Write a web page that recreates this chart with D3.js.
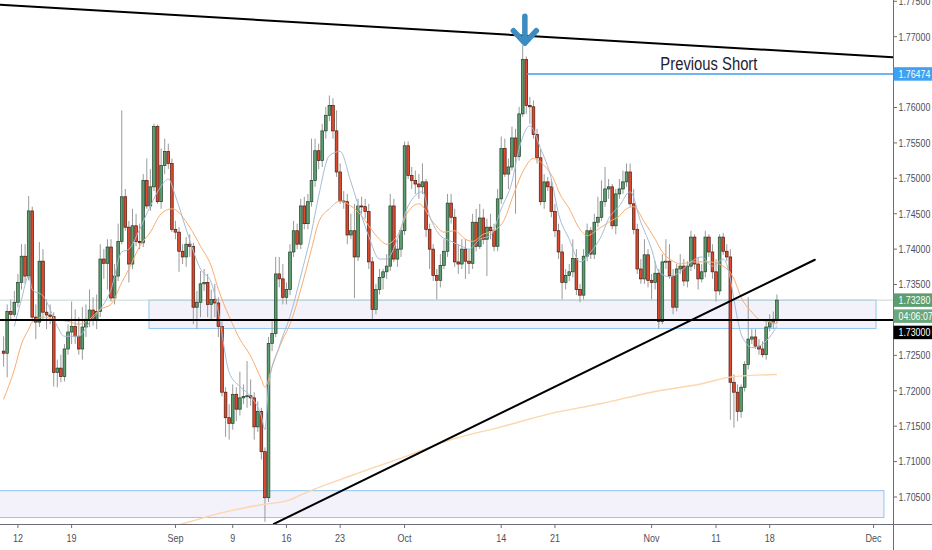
<!DOCTYPE html>
<html>
<head>
<meta charset="utf-8">
<script src="https://cdn.jsdelivr.net/npm/d3@7"></script>
<style>
  html, body { margin: 0; padding: 0; background: #fff; }
  svg { display: block; }
  .ax { font-family: "Liberation Sans", Arial, sans-serif; font-size: 11px; fill: #4c4f58; }
  .tag { font-family: "Liberation Sans", Arial, sans-serif; font-size: 11px; fill: #fff; }
</style>
</head>
<body>
<script>
// 8h candles, bar 0 = first fully visible bar (Aug 2019)
const opens = [
  1.7256,1.7253,1.7312,1.7308,1.7325,1.7353,1.7390,1.7362,1.7454,1.7304,
  1.7297,1.7383,1.7311,1.7307,1.7305,1.7226,1.7232,1.7220,1.7259,1.7283,
  1.7291,1.7277,1.7259,1.7290,1.7301,1.7314,1.7301,1.7312,1.7386,1.7380,
  1.7403,1.7331,1.7362,1.7411,1.7474,1.7431,1.7379,1.7433,1.7411,1.7409,
  1.7497,1.7461,1.7488,1.7573,1.7467,1.7518,1.7538,1.7521,1.7428,1.7424,
  1.7397,1.7389,1.7407,1.7404,1.7318,1.7325,1.7351,1.7353,1.7322,1.7329,
  1.7324,1.7291,1.7198,1.7162,1.7154,1.7195,1.7174,1.7190,1.7192,1.7193,
  1.7190,1.7149,1.7171,1.7114,1.7049,1.7267,1.7281,1.7365,1.7358,1.7332,
  1.7343,1.7396,1.7426,1.7407,1.7461,1.7436,1.7467,1.7497,1.7539,1.7525,
  1.7567,1.7589,1.7603,1.7567,1.7509,1.7468,1.7467,1.7420,1.7426,1.7389,
  1.7461,1.7460,1.7453,1.7382,1.7315,1.7343,1.7360,1.7368,1.7376,1.7461,
  1.7386,1.7400,1.7426,1.7546,1.7504,1.7497,1.7492,1.7488,1.7495,1.7428,
  1.7400,1.7363,1.7356,1.7377,1.7397,1.7465,1.7445,1.7382,1.7379,1.7400,
  1.7383,1.7380,1.7438,1.7404,1.7444,1.7414,1.7431,1.7426,1.7404,1.7471,
  1.7542,1.7506,1.7516,1.7557,1.7531,1.7591,1.7668,1.7603,1.7601,1.7562,
  1.7529,1.7467,1.7495,1.7488,1.7453,1.7426,1.7396,1.7353,1.7363,1.7368,
  1.7387,1.7343,1.7335,1.7390,1.7426,1.7393,1.7438,1.7445,1.7467,1.7485,
  1.7488,1.7433,1.7478,1.7485,1.7495,1.7509,1.7464,1.7428,1.7372,1.7358,
  1.7392,1.7356,1.7353,1.7366,1.7298,1.7382,1.7383,1.7362,1.7318,1.7372,
  1.7376,1.7355,1.7376,1.7417,1.7379,1.7358,1.7368,1.7417,1.7396,1.7368,
  1.7341,1.7417,1.7397,1.7389,1.7212,1.7198,1.7171,1.7205,1.7237,1.7273,
  1.7276,1.7263,1.7259,1.7251,1.7290,1.7297,1.7301
];
const highs = [
  1.7277,1.7322,1.7329,1.7341,1.7365,1.7407,1.7407,1.7475,1.7460,1.7322,
  1.7410,1.7400,1.7329,1.7322,1.7311,1.7244,1.7251,1.7266,1.7294,1.7326,
  1.7315,1.7304,1.7318,1.7322,1.7343,1.7332,1.7336,1.7407,1.7400,1.7414,
  1.7414,1.7379,1.7436,1.7596,1.7485,1.7440,1.7457,1.7450,1.7436,1.7506,
  1.7528,1.7513,1.7577,1.7576,1.7542,1.7556,1.7549,1.7528,1.7440,1.7431,
  1.7407,1.7417,1.7421,1.7409,1.7341,1.7369,1.7372,1.7365,1.7343,1.7351,
  1.7332,1.7298,1.7205,1.7181,1.7209,1.7205,1.7227,1.7209,1.7242,1.7216,
  1.7198,1.7185,1.7176,1.7120,1.7276,1.7298,1.7389,1.7389,1.7379,1.7353,
  1.7407,1.7440,1.7436,1.7471,1.7474,1.7478,1.7556,1.7556,1.7549,1.7577,
  1.7601,1.7617,1.7613,1.7596,1.7521,1.7482,1.7478,1.7450,1.7464,1.7471,
  1.7474,1.7471,1.7464,1.7389,1.7351,1.7372,1.7372,1.7393,1.7478,1.7471,
  1.7414,1.7428,1.7552,1.7552,1.7516,1.7511,1.7506,1.7521,1.7499,1.7436,
  1.7407,1.7372,1.7393,1.7414,1.7478,1.7478,1.7457,1.7407,1.7414,1.7414,
  1.7400,1.7450,1.7457,1.7464,1.7457,1.7443,1.7450,1.7436,1.7485,1.7559,
  1.7556,1.7528,1.7573,1.7570,1.7601,1.7688,1.7672,1.7615,1.7610,1.7570,
  1.7542,1.7506,1.7502,1.7499,1.7464,1.7436,1.7407,1.7372,1.7379,1.7414,
  1.7400,1.7351,1.7400,1.7436,1.7431,1.7450,1.7474,1.7497,1.7516,1.7499,
  1.7492,1.7485,1.7499,1.7511,1.7521,1.7521,1.7485,1.7436,1.7386,1.7414,
  1.7400,1.7365,1.7383,1.7372,1.7393,1.7414,1.7407,1.7372,1.7379,1.7393,
  1.7386,1.7383,1.7426,1.7421,1.7389,1.7379,1.7426,1.7421,1.7407,1.7386,
  1.7421,1.7423,1.7407,1.7400,1.7223,1.7209,1.7209,1.7242,1.7332,1.7287,
  1.7287,1.7273,1.7270,1.7301,1.7308,1.7312,1.7336
];
const lows = [
  1.7234,1.7219,1.7301,1.7304,1.7318,1.7343,1.7351,1.7356,1.7298,1.7273,
  1.7290,1.7301,1.7287,1.7294,1.7206,1.7205,1.7212,1.7213,1.7251,1.7266,
  1.7266,1.7251,1.7244,1.7276,1.7290,1.7292,1.7287,1.7304,1.7358,1.7343,
  1.7326,1.7322,1.7355,1.7407,1.7426,1.7353,1.7372,1.7404,1.7400,1.7403,
  1.7457,1.7454,1.7482,1.7464,1.7457,1.7506,1.7513,1.7424,1.7414,1.7368,
  1.7379,1.7375,1.7389,1.7294,1.7287,1.7304,1.7341,1.7304,1.7301,1.7304,
  1.7276,1.7192,1.7135,1.7131,1.7145,1.7157,1.7165,1.7181,1.7176,1.7179,
  1.7131,1.7142,1.7103,1.7015,1.7043,1.7256,1.7276,1.7346,1.7322,1.7322,
  1.7335,1.7389,1.7400,1.7400,1.7428,1.7428,1.7460,1.7488,1.7513,1.7516,
  1.7556,1.7581,1.7556,1.7502,1.7464,1.7457,1.7407,1.7414,1.7331,1.7383,
  1.7450,1.7443,1.7372,1.7301,1.7308,1.7336,1.7343,1.7358,1.7369,1.7382,
  1.7375,1.7389,1.7420,1.7499,1.7485,1.7478,1.7471,1.7478,1.7417,1.7372,
  1.7355,1.7329,1.7346,1.7372,1.7389,1.7436,1.7375,1.7365,1.7372,1.7358,
  1.7365,1.7372,1.7397,1.7400,1.7407,1.7362,1.7414,1.7397,1.7397,1.7464,
  1.7502,1.7485,1.7511,1.7450,1.7525,1.7587,1.7591,1.7577,1.7556,1.7521,
  1.7462,1.7457,1.7482,1.7445,1.7417,1.7386,1.7329,1.7343,1.7355,1.7360,
  1.7335,1.7325,1.7329,1.7383,1.7386,1.7386,1.7431,1.7440,1.7460,1.7471,
  1.7428,1.7421,1.7471,1.7478,1.7488,1.7460,1.7421,1.7365,1.7351,1.7351,
  1.7346,1.7329,1.7343,1.7287,1.7294,1.7372,1.7358,1.7308,1.7312,1.7365,
  1.7348,1.7346,1.7369,1.7372,1.7343,1.7353,1.7360,1.7389,1.7358,1.7326,
  1.7335,1.7392,1.7383,1.7159,1.7148,1.7157,1.7162,1.7199,1.7230,1.7266,
  1.7259,1.7251,1.7247,1.7244,1.7284,1.7287,1.7295
];
const closes = [
  1.7253,1.7312,1.7308,1.7325,1.7353,1.7390,1.7362,1.7454,1.7304,1.7297,
  1.7383,1.7311,1.7307,1.7305,1.7226,1.7232,1.7220,1.7259,1.7283,1.7291,
  1.7277,1.7259,1.7290,1.7301,1.7314,1.7301,1.7312,1.7386,1.7380,1.7403,
  1.7331,1.7362,1.7411,1.7474,1.7431,1.7379,1.7433,1.7411,1.7409,1.7497,
  1.7461,1.7488,1.7573,1.7467,1.7518,1.7538,1.7521,1.7428,1.7424,1.7397,
  1.7389,1.7407,1.7404,1.7318,1.7325,1.7351,1.7353,1.7322,1.7329,1.7324,
  1.7291,1.7198,1.7162,1.7154,1.7195,1.7174,1.7190,1.7192,1.7193,1.7190,
  1.7149,1.7171,1.7114,1.7049,1.7267,1.7281,1.7365,1.7358,1.7332,1.7343,
  1.7396,1.7426,1.7407,1.7461,1.7436,1.7467,1.7497,1.7539,1.7525,1.7567,
  1.7589,1.7603,1.7567,1.7509,1.7468,1.7467,1.7420,1.7426,1.7389,1.7461,
  1.7460,1.7453,1.7382,1.7315,1.7343,1.7360,1.7368,1.7376,1.7461,1.7386,
  1.7400,1.7426,1.7546,1.7504,1.7497,1.7492,1.7488,1.7495,1.7428,1.7400,
  1.7363,1.7356,1.7377,1.7397,1.7465,1.7445,1.7382,1.7379,1.7400,1.7383,
  1.7380,1.7438,1.7404,1.7444,1.7414,1.7431,1.7426,1.7404,1.7471,1.7542,
  1.7506,1.7516,1.7557,1.7531,1.7591,1.7668,1.7603,1.7601,1.7562,1.7529,
  1.7467,1.7495,1.7488,1.7453,1.7426,1.7396,1.7353,1.7363,1.7368,1.7387,
  1.7343,1.7335,1.7390,1.7426,1.7393,1.7438,1.7445,1.7467,1.7485,1.7488,
  1.7433,1.7478,1.7485,1.7495,1.7509,1.7464,1.7428,1.7372,1.7358,1.7392,
  1.7356,1.7353,1.7366,1.7298,1.7382,1.7383,1.7362,1.7318,1.7372,1.7376,
  1.7355,1.7376,1.7417,1.7379,1.7358,1.7368,1.7417,1.7396,1.7368,1.7341,
  1.7417,1.7397,1.7389,1.7212,1.7198,1.7171,1.7205,1.7237,1.7273,1.7276,
  1.7263,1.7259,1.7251,1.7290,1.7297,1.7301,1.7328
];

// moving averages at these bar indexes
const fastIdx = [3,5,7,8,11,13,15,17,21,24,27,30,33,35,38,41,44,46,48,51,55,58,60,63,66,69,72,73,74,77,80,83,86,88,91,94,97,100,102,105,107,110,113,117,119,122,125,128,130,133,136,139,142,144,147,150,153,155,158,161,164,167,169,172,175,178,181,183,186,189,192,195,198,201,203,204,205,206,207,209,211,214,216];
const fastVal = [1.7291,1.7329,1.7362,1.7343,1.7334,1.7315,1.7291,1.7277,1.7277,1.7297,1.7315,1.7343,1.7396,1.7400,1.7428,1.7461,1.7489,1.7499,1.7475,1.7428,1.7372,1.7353,1.7311,1.7226,1.7206,1.7192,1.7164,1.7145,1.7206,1.7263,1.7305,1.7362,1.7424,1.7475,1.7532,1.7538,1.7495,1.7447,1.7418,1.7386,1.7386,1.7414,1.7461,1.7481,1.7447,1.7419,1.7411,1.7404,1.7400,1.7414,1.7419,1.7457,1.7495,1.7542,1.7574,1.7542,1.7499,1.7450,1.7414,1.7382,1.7396,1.7419,1.7443,1.7461,1.7481,1.7438,1.7400,1.7368,1.7361,1.7368,1.7382,1.7389,1.7376,1.7386,1.7358,1.7329,1.7301,1.7280,1.7270,1.7261,1.7263,1.7276,1.7291];
const midIdx = [0,3,5,7,8,11,14,18,21,24,27,30,33,35,38,41,44,47,52,55,58,60,63,66,69,72,73,75,78,80,83,86,88,91,94,97,100,102,105,107,110,113,116,120,123,126,129,131,134,137,140,142,145,148,151,154,155,158,161,163,166,169,172,174,176,179,182,184,187,189,192,197,201,204,206,209,211,214,216];
const midVal = [1.7188,1.7230,1.7266,1.7287,1.7297,1.7304,1.7301,1.7298,1.7294,1.7301,1.7315,1.7322,1.7353,1.7372,1.7404,1.7424,1.7450,1.7457,1.7431,1.7404,1.7376,1.7343,1.7305,1.7273,1.7249,1.7216,1.7205,1.7234,1.7273,1.7294,1.7343,1.7400,1.7438,1.7457,1.7468,1.7461,1.7447,1.7433,1.7414,1.7407,1.7419,1.7453,1.7464,1.7438,1.7424,1.7426,1.7414,1.7411,1.7421,1.7426,1.7443,1.7471,1.7509,1.7528,1.7518,1.7495,1.7482,1.7457,1.7428,1.7419,1.7428,1.7438,1.7447,1.7457,1.7460,1.7438,1.7414,1.7396,1.7383,1.7379,1.7382,1.7382,1.7376,1.7358,1.7332,1.7311,1.7301,1.7297,1.7294];
const slowIdx = [47,52,62,72,80,83,97,111,125,139,153,167,181,195,204,216];
const slowVal = [1.7008,1.7015,1.7029,1.7039,1.7046,1.7053,1.7080,1.7105,1.7131,1.7149,1.7168,1.7182,1.7198,1.7210,1.7220,1.7223];

// axis ticks
const xTickIdx = [4, 19, 48, 64, 79, 94, 112, 139, 154, 181, 199, 214, 243];
const xTickLabels = ['12', '19', 'Sep', '9', '16', '23', 'Oct', '14', '21', 'Nov', '11', '18', 'Dec'];
const priceTicks = [1.705, 1.71, 1.715, 1.72, 1.725, 1.73, 1.735, 1.74, 1.745, 1.75, 1.755, 1.76, 1.765, 1.77, 1.775];

// drawings
const zoneStart = [40.6, -2];
const zoneEnd = [243.7, 245.9];
const zoneTop = [1.7328, 1.7059];
const zoneBottom = [1.7288, 1.7021];
const trendFrom = [[-1, 1.7745], [75.5, 1.7012]];
const trendTo = [[248.4, 1.7671], [226.6, 1.7385]];
const levelPrice = 1.73;
const prevShortPrice = 1.76474;
const prevShortFrom = 146.2;
const prevShortText = 'Previous Short';
const arrowBar = 145.6;
const timerText = '04:06:07';

const W = 932, H = 550;
const plotRight = 893, plotBottom = 524;

const svg = d3.select('body').append('svg')
    .attr('width', W)
    .attr('height', H);

const x = d3.scaleLinear().domain([0, 216]).range([3.6, 776.9]);
const y = d3.scaleLinear().domain([1.705, 1.77]).range([497, 36.7]);

svg.append('clipPath').attr('id', 'plot')
    .append('rect').attr('x', 0).attr('y', 0).attr('width', plotRight).attr('height', plotBottom);

const plot = svg.append('g').attr('clip-path', 'url(#plot)');

// zones
for (let k = 0; k < zoneTop.length; k++) {
    plot.append('rect')
        .attr('x', x(zoneStart[k]))
        .attr('y', y(zoneTop[k]))
        .attr('width', x(zoneEnd[k]) - x(zoneStart[k]))
        .attr('height', y(zoneBottom[k]) - y(zoneTop[k]))
        .attr('fill', '#f3f1fa')
        .attr('stroke', '#93c6ee')
        .attr('stroke-width', 1);
}

// last price line
const lastClose = closes[closes.length - 1];
plot.append('line')
    .attr('x1', 0).attr('x2', plotRight)
    .attr('y1', y(lastClose)).attr('y2', y(lastClose))
    .attr('stroke', '#c6d6cc').attr('stroke-width', 1);

// candles
const bars = d3.range(opens.length);
const up = i => closes[i] >= opens[i];

plot.selectAll('.wick')
    .data(bars)
    .join('line')
    .attr('class', 'wick')
    .attr('x1', i => x(i)).attr('x2', i => x(i))
    .attr('y1', i => y(highs[i])).attr('y2', i => y(lows[i]))
    .attr('stroke', '#9a9a9a').attr('stroke-width', 1);

plot.selectAll('.body')
    .data(bars)
    .join('rect')
    .attr('class', 'body')
    .attr('x', i => x(i) - 1.35)
    .attr('width', 2.7)
    .attr('y', i => y(Math.max(opens[i], closes[i])))
    .attr('height', i => Math.max(1, Math.abs(y(opens[i]) - y(closes[i]))))
    .attr('fill', i => up(i) ? '#5c9e70' : '#db4a2e')
    .attr('stroke', i => up(i) ? '#1f4029' : '#4f190e')
    .attr('stroke-width', 0.7);

// moving averages
const maLine = d3.line()
    .x(d => x(d[0]))
    .y(d => y(d[1]))
    .curve(d3.curveMonotoneX);

const mas = [
    { idx: slowIdx, val: slowVal, color: '#fcd6ad', w: 1.4 },
    { idx: midIdx, val: midVal, color: '#f8ad70', w: 1 },
    { idx: fastIdx, val: fastVal, color: '#a5bdd6', w: 1 }
];
for (const ma of mas) {
    plot.append('path')
        .datum(ma.idx.map((d, k) => [d, ma.val[k]]))
        .attr('d', maLine)
        .attr('fill', 'none')
        .attr('stroke', ma.color)
        .attr('stroke-width', ma.w);
}

// horizontal level and trend lines
plot.append('line')
    .attr('x1', 0).attr('x2', plotRight)
    .attr('y1', y(levelPrice)).attr('y2', y(levelPrice))
    .attr('stroke', '#000').attr('stroke-width', 2);

for (let k = 0; k < trendFrom.length; k++) {
    plot.append('line')
        .attr('x1', x(trendFrom[k][0])).attr('y1', y(trendFrom[k][1]))
        .attr('x2', x(trendTo[k][0])).attr('y2', y(trendTo[k][1]))
        .attr('stroke', '#000').attr('stroke-width', 2)
        .attr('stroke-linecap', 'round');
}

// previous short
plot.append('line')
    .attr('x1', x(prevShortFrom)).attr('x2', plotRight)
    .attr('y1', y(prevShortPrice)).attr('y2', y(prevShortPrice))
    .attr('stroke', '#3d9df0').attr('stroke-width', 1.5);

plot.append('text')
    .attr('transform', `translate(${x(197)},${y(prevShortPrice) - 4}) scale(0.78,1)`)
    .attr('text-anchor', 'middle')
    .style('font-family', '"Liberation Sans", Arial, sans-serif')
    .style('font-size', '19px')
    .style('fill', '#1e222d')
    .text(prevShortText);

// arrow over the top
const ax = x(arrowBar), ay = y(highs[145]);
plot.append('path')
    .attr('d', `M${ax},${ay - 29} L${ax},${ay - 3} M${ax - 11.5},${ay - 14.5} L${ax},${ay - 2} L${ax + 11.5},${ay - 14.5}`)
    .attr('fill', 'none')
    .attr('stroke', '#3b8cc0')
    .attr('stroke-width', 5.5)
    .attr('stroke-linecap', 'round')
    .attr('stroke-linejoin', 'round');

// axes frame
svg.append('line')
    .attr('x1', plotRight + 0.5).attr('x2', plotRight + 0.5)
    .attr('y1', 0).attr('y2', H)
    .attr('stroke', '#6b6e78').attr('stroke-width', 1);
svg.append('line')
    .attr('x1', 0).attr('x2', W)
    .attr('y1', plotBottom + 0.5).attr('y2', plotBottom + 0.5)
    .attr('stroke', '#6b6e78').attr('stroke-width', 1);

// time axis
const xt = svg.append('g');
xt.selectAll('line')
    .data(xTickIdx)
    .join('line')
    .attr('x1', d => x(d)).attr('x2', d => x(d))
    .attr('y1', plotBottom + 1).attr('y2', plotBottom + 4)
    .attr('stroke', '#6b6e78');
xt.selectAll('text')
    .data(xTickIdx)
    .join('text')
    .attr('class', 'ax')
    .attr('transform', d => `translate(${x(d)},542) scale(0.82,1)`)
    .attr('text-anchor', 'middle')
    .text((d, k) => xTickLabels[k]);

// price axis tags (stacked like the terminal does)
const fmt = d3.format('.5f');
const tagH = 13.5;
const squeeze = 'scale(0.8,1)';
const tags = [
    { yc: y(prevShortPrice), fill: '#3ea1f2', text: fmt(prevShortPrice) },
    { yc: y(lastClose), fill: '#5c9e70', text: fmt(lastClose) },
    { yc: y(lastClose) + 16, fill: '#68a77c', text: timerText },
    { yc: y(lastClose) + 32.3, fill: '#000', text: fmt(levelPrice) }
];

const yt = svg.append('g');
const freeTicks = priceTicks.filter(p => tags.every(t => Math.abs(y(p) - t.yc) > 9));
yt.selectAll('line')
    .data(freeTicks)
    .join('line')
    .attr('x1', plotRight + 1).attr('x2', plotRight + 4)
    .attr('y1', d => y(d)).attr('y2', d => y(d))
    .attr('stroke', '#6b6e78');
yt.selectAll('text')
    .data(freeTicks)
    .join('text')
    .attr('class', 'ax')
    .attr('transform', d => `translate(${plotRight + 5.5},${y(d)}) ${squeeze}`)
    .attr('dy', '0.35em')
    .text(d => fmt(d));

for (const t of tags) {
    svg.append('rect')
        .attr('x', plotRight + 0.5).attr('y', t.yc - tagH / 2)
        .attr('width', W - plotRight).attr('height', tagH)
        .attr('fill', t.fill);
    svg.append('text')
        .attr('class', 'tag')
        .attr('transform', `translate(${plotRight + 5.5},${t.yc}) ${squeeze}`)
        .attr('dy', '0.35em')
        .text(t.text);
}
</script>
</body>
</html>
